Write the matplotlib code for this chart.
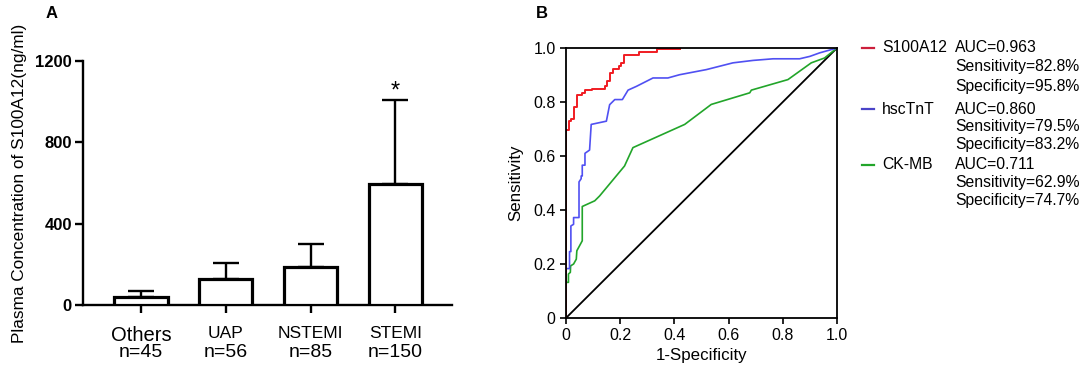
import matplotlib.pyplot as plt

plt.rcParams['font.family'] = ['Liberation Sans', 'DejaVu Sans']

# panel A data
groups = ['Others', 'UAP', 'NSTEMI', 'STEMI']
n_labels = ['n=45', 'n=56', 'n=85', 'n=150']
means = [40, 128, 187, 595]
sds = [30, 79, 113, 413]

# panel B data (ROC curves)
s100_x = [0, 0, 0.01, 0.01, 0.02, 0.02, 0.031, 0.031, 0.04, 0.04, 0.059, 0.059, 0.071, 0.071,
          0.096, 0.096, 0.145, 0.145, 0.153, 0.153, 0.163, 0.163, 0.175, 0.175, 0.194, 0.194,
          0.203, 0.203, 0.215, 0.215, 0.268, 0.268, 0.335, 0.335, 0.421]
s100_y = [0, 0.698, 0.698, 0.728, 0.728, 0.737, 0.737, 0.781, 0.781, 0.827, 0.827, 0.833, 0.833, 0.843,
          0.843, 0.848, 0.848, 0.858, 0.858, 0.877, 0.877, 0.907, 0.907, 0.922, 0.922, 0.935,
          0.935, 0.944, 0.944, 0.975, 0.975, 0.985, 0.985, 0.995, 0.995]

tnt_x = [0, 0, 0.005, 0.013, 0.013, 0.018, 0.018, 0.028, 0.028, 0.048, 0.048, 0.056, 0.056, 0.06, 0.06,
         0.07, 0.07, 0.087, 0.093, 0.149, 0.161, 0.18, 0.208, 0.229, 0.26, 0.321, 0.376, 0.419,
         0.518, 0.616, 0.69, 0.764, 0.862, 0.9, 0.936, 1.0]
tnt_y = [0, 0.183, 0.183, 0.183, 0.246, 0.246, 0.341, 0.347, 0.372, 0.372, 0.504, 0.516, 0.526, 0.526,
         0.566, 0.566, 0.61, 0.622, 0.717, 0.729, 0.79, 0.809, 0.809, 0.844, 0.858, 0.889, 0.889,
         0.901, 0.92, 0.945, 0.954, 0.96, 0.96, 0.969, 0.982, 1.0]

ck_x = [0, 0, 0.009, 0.009, 0.016, 0.017, 0.028, 0.038, 0.04, 0.06, 0.06, 0.106, 0.124, 0.216, 0.247,
        0.438, 0.536, 0.678, 0.684, 0.819, 0.905, 0.954, 1.0]
ck_y = [0, 0.132, 0.132, 0.163, 0.169, 0.193, 0.2, 0.218, 0.249, 0.286, 0.413, 0.434, 0.452, 0.563,
        0.631, 0.717, 0.791, 0.834, 0.844, 0.883, 0.945, 0.963, 1.0]

roc_names = ['S100A12', 'hscTnT', 'CK-MB']
auc_text = ['AUC=0.963', 'AUC=0.860', 'AUC=0.711']
sens_text = ['Sensitivity=82.8%', 'Sensitivity=79.5%', 'Sensitivity=62.9%']
spec_text = ['Specificity=95.8%', 'Specificity=83.2%', 'Specificity=74.7%']
colors = ['#f01c22', '#5050f2', '#22a52a']
key_colors = ['#cc1f3c', '#4a44c8', '#22a52a']

W, H = 1084, 375
fig = plt.figure(figsize=(W / 100, H / 100), dpi=100)


def box(l, t, r, b):
    return [l / W, 1 - b / H, (r - l) / W, (b - t) / H]


# ---- A ----
ax = fig.add_axes(box(83, 61, 452, 305))
pos = list(range(len(groups)))
ax.bar(pos, means, width=0.63, color='white', edgecolor='black', linewidth=2.3, zorder=3)
ax.errorbar(pos, means, yerr=[[0] * 4, sds], fmt='none', ecolor='black', elinewidth=1.7,
            capsize=9.5, capthick=1.7, zorder=2)
ax.text(3, means[3] + sds[3] - 10, '*', ha='center', va='bottom', fontsize=17)
ax.set_xlim(-0.685, 3.67)
ax.set_ylim(0, 1200)
ax.set_yticks([0, 400, 800, 1200])
ax.set_xticks(pos)
ax.set_xticklabels(groups)
for i, lab in enumerate(ax.get_xticklabels()):
    lab.set_fontsize(14.5 if i == 0 else 12.5)
ax.tick_params(axis='x', length=6, width=1.7, pad=9)
ax.tick_params(axis='y', length=6, width=1.7, labelsize=12, pad=2)
for lab in ax.get_yticklabels():
    lab.set_fontweight('bold')
for i, t in enumerate(n_labels):
    ax.text(i, -0.195, t, transform=ax.get_xaxis_transform(), ha='center', va='center', fontsize=14)
for s in ['top', 'right']:
    ax.spines[s].set_visible(False)
for s in ['left', 'bottom']:
    ax.spines[s].set_linewidth(1.7)
ax.set_ylabel('Plasma Concentration of S100A12(ng/ml)', fontsize=12.4, labelpad=6)
fig.text(52 / W, 1 - 14 / H, 'A', fontsize=12, fontweight='bold', ha='center', va='center')

# ---- B ----
bx = fig.add_axes(box(566, 48, 837, 318))
bx.plot([0, 1], [0, 1], color='black', lw=1.3)
bx.plot(ck_x, ck_y, color=colors[2], lw=1.2)
bx.plot(tnt_x, tnt_y, color=colors[1], lw=1.2)
bx.plot(s100_x, s100_y, color=colors[0], lw=1.4)
bx.set_xlim(0, 1)
bx.set_ylim(0, 1)
ticks = [0, 0.2, 0.4, 0.6, 0.8, 1.0]
tl = ['0', '0.2', '0.4', '0.6', '0.8', '1.0']
bx.set_xticks(ticks)
bx.set_xticklabels(tl)
bx.set_yticks(ticks)
bx.set_yticklabels(tl)
bx.tick_params(length=4, width=1.2, labelsize=11.5)
for s in bx.spines.values():
    s.set_linewidth(1.3)
bx.set_xlabel('1-Specificity', fontsize=12.2, labelpad=3)
bx.set_ylabel('Sensitivity', fontsize=12.2, labelpad=7)
fig.text(542 / W, 1 - 14 / H, 'B', fontsize=12, fontweight='bold', ha='center', va='center')

# legend-like text
row_y = [(48, 67, 87), (109, 127, 144), (165, 183, 201)]
for i in range(3):
    y0, y1, y2 = row_y[i]
    fig.add_artist(plt.Line2D([862 / W, 874 / W], [1 - y0 / H, 1 - y0 / H], color=key_colors[i], lw=1.6))
    fig.text(882 / W, 1 - y0 / H, roc_names[i], fontsize=11.3, va='center')
    fig.text(955 / W, 1 - y0 / H, auc_text[i], fontsize=11.3, va='center')
    fig.text(955 / W, 1 - y1 / H, sens_text[i], fontsize=11.3, va='center')
    fig.text(955 / W, 1 - y2 / H, spec_text[i], fontsize=11.3, va='center')

fig.savefig('out.png', dpi=100)
